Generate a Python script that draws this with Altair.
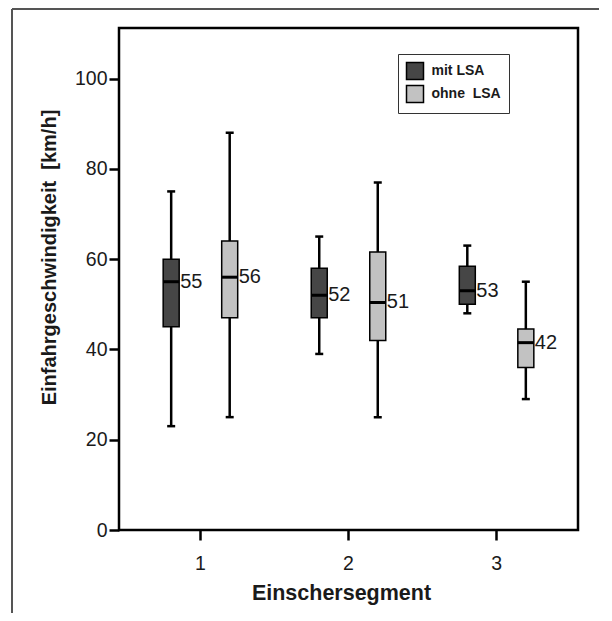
import altair as alt
import pandas as pd

# --- data ---
segment = ["1", "1", "2", "2", "3", "3"]
series = ["mit LSA", "ohne\u00a0 LSA"] * 3
whisker_low = [23, 25, 39, 25, 48, 29]
q1 = [45, 47, 47, 42, 50, 36]
median = [55, 56, 52, 50.4, 53, 41.5]
q3 = [60, 64, 58, 61.6, 58.4, 44.5]
whisker_high = [75, 88, 65, 77, 63, 55]
median_label = ["55", "56", "52", "51", "53", "42"]

series_order = ["mit LSA", "ohne\u00a0 LSA"]
series_colors = ["#464646", "#c2c2c2"]

df = pd.DataFrame({
    "segment": segment,
    "series": series,
    "low": whisker_low,
    "q1": q1,
    "median": median,
    "q3": q3,
    "high": whisker_high,
    "label": median_label,
})

FONT = "Liberation Sans"

x_enc = alt.X("segment:N",
              scale=alt.Scale(paddingOuter=0.05, paddingInner=0),
              axis=alt.Axis(title="Einschersegment", labelAngle=0, labelFontSize=19.5,
                            labelPadding=14, tickSize=10, tickWidth=2.5, tickColor="black",
                            domain=False, labelColor="#1a1a1a", labelFont=FONT,
                            titleFont=FONT, titleFontSize=21.5, titleFontWeight="bold",
                            titleColor="#1a1a1a", titleX=222, titleY=63,
                            titleBaseline="middle", titleAlign="center"))
xo_enc = alt.XOffset("series:N", sort=series_order,
                     scale=alt.Scale(paddingOuter=0.265, paddingInner=0))
y_scale = alt.Scale(domain=[0, 111.2], nice=False, zero=True)
y_axis = alt.Axis(title="Einfahrgeschwindigkeit\u00a0 [km/h]", values=[0, 20, 40, 60, 80, 100],
                  labelFontSize=19.5, labelPadding=2, tickSize=10, tickWidth=2.5,
                  tickColor="black", domain=False, grid=False, labelColor="#1a1a1a",
                  labelFont=FONT, titleFont=FONT, titleFontSize=20, titleFontWeight="bold",
                  titleColor="#1a1a1a", titleX=-70, titleY=229, titleAngle=270,
                  titleBaseline="middle", titleAlign="center")

base = alt.Chart(df)

whiskers = base.mark_rule(color="black", strokeWidth=2.5).encode(
    x=x_enc, xOffset=xo_enc,
    y=alt.Y("low:Q", scale=y_scale, axis=y_axis),
    y2="high:Q",
)

cap_low = base.mark_tick(color="black", size=8, thickness=2.5, opacity=1).encode(
    x=x_enc, xOffset=xo_enc, y=alt.Y("low:Q", scale=y_scale, axis=y_axis))
cap_high = base.mark_tick(color="black", size=8, thickness=2.5, opacity=1).encode(
    x=x_enc, xOffset=xo_enc, y=alt.Y("high:Q", scale=y_scale, axis=y_axis))

boxes = base.mark_bar(size=16, stroke="black", strokeWidth=1.5, opacity=1).encode(
    x=x_enc, xOffset=xo_enc,
    y=alt.Y("q1:Q", scale=y_scale, axis=y_axis),
    y2="q3:Q",
    color=alt.Color("series:N", sort=series_order,
                    scale=alt.Scale(domain=series_order, range=series_colors),
                    legend=alt.Legend(title=None, orient="none", legendX=279, legendY=26,
                                      padding=7.5, strokeColor="#333333", fillColor="white",
                                      labelFont=FONT, labelFontWeight="bold", labelFontSize=14,
                                      labelColor="#1a1a1a", labelOffset=7, rowPadding=0,
                                      symbolType="square", symbolSize=289,
                                      symbolStrokeColor="black", symbolStrokeWidth=1.5,
                                      symbolOpacity=1)),
)

medians = base.mark_tick(color="black", size=16, thickness=3, opacity=1).encode(
    x=x_enc, xOffset=xo_enc, y=alt.Y("median:Q", scale=y_scale, axis=y_axis))

labels = base.mark_text(align="left", baseline="middle", dx=9, fontSize=20, font=FONT,
                        color="#1a1a1a").encode(
    x=x_enc, xOffset=xo_enc, y=alt.Y("median:Q", scale=y_scale, axis=y_axis),
    text="label:N")

frame_df = pd.DataFrame({"k": [0]})
border_top = alt.Chart(frame_df).mark_rule(color="#555555", strokeWidth=2).encode(
    x=alt.value(-107), x2=alt.value(480), y=alt.value(-19))
border_left = alt.Chart(frame_df).mark_rule(color="#555555", strokeWidth=2).encode(
    x=alt.value(-107), y=alt.value(-19), y2=alt.value(600))

chart = alt.layer(whiskers, cap_low, cap_high, boxes, medians, labels,
                  border_top, border_left).properties(
    width=459, height=502,
    autosize=alt.AutoSizeParams(type="none"),
    padding={"left": 111, "top": 20, "right": 26, "bottom": 83},
    background="white",
).configure_view(stroke="black", strokeWidth=2.5)

chart.save("out.html", embed_options={"renderer": "svg", "actions": False})
